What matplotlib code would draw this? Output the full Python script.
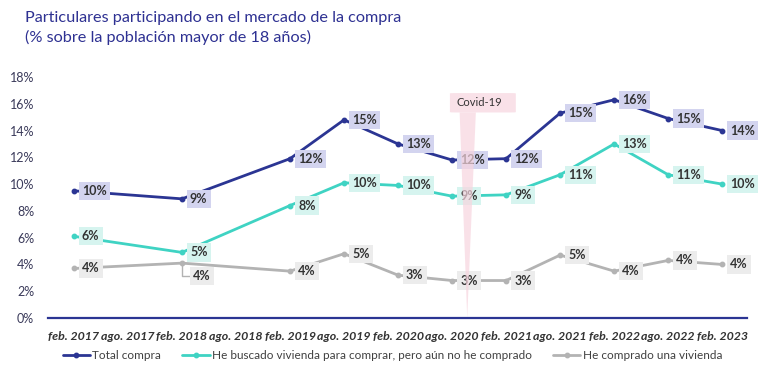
import numpy as np
import matplotlib.pyplot as plt
from matplotlib.patches import FancyBboxPatch, Polygon

plt.rcParams["font.family"] = ["Lato", "DejaVu Sans"]

# ---------------- data ----------------
periods = ["feb. 2017", "ago. 2017", "feb. 2018", "ago. 2018", "feb. 2019",
           "ago. 2019", "feb. 2020", "ago. 2020", "feb. 2021", "ago. 2021",
           "feb. 2022", "ago. 2022", "feb. 2023"]
# waves measured (index into periods)
wave_idx = [0, 2, 4, 5, 6, 7, 8, 9, 10, 11, 12]

total_compra = [9.5, 8.9, 11.9, 14.8, 13.0, 11.8, 11.9, 15.3, 16.3, 14.9, 14.0]
buscado = [6.1, 4.9, 8.4, 10.1, 9.9, 9.1, 9.2, 10.7, 13.0, 10.7, 10.0]
comprado = [3.7, 4.1, 3.5, 4.8, 3.2, 2.8, 2.8, 4.7, 3.5, 4.3, 4.0]

series_names = ["Total compra",
                "He buscado vivienda para comprar, pero aún no he comprado",
                "He comprado una vivienda"]

covid_pos = 7.28  # just after ago. 2020

# ---------------- style ----------------
NAVY = "#2b3593"
CYAN = "#3fd3c3"
GREY = "#b3b3b3"
box_colors = ["#d3d4ef", "#d6f4ef", "#ececec"]
line_colors = [NAVY, CYAN, GREY]

fig = plt.figure(figsize=(7.68, 3.70), dpi=100)
ax = fig.add_axes([0.0625, 0.1405, 0.9102, 0.6514])

x = np.array(wave_idx)
all_series = [total_compra, buscado, comprado]

for vals, lc, bc, name in zip(all_series, line_colors, box_colors, series_names):
    ax.plot(x, vals, color=lc, lw=2.0, marker="o", ms=3.2, label=name,
            solid_capstyle="round", zorder=3)
    for i, (xi, v) in enumerate(zip(x, vals)):
        lbl = f"{v:.0f}%"
        if lc == GREY and i == 1:
            # label pushed below-right with a leader line
            ax.annotate(lbl, xy=(xi, v), xytext=(11, -13),
                        textcoords="offset pixels", ha="left", va="center",
                        fontsize=9, fontweight="bold", color="#333333",
                        bbox=dict(boxstyle="square,pad=0.25", fc=bc, ec="none"),
                        arrowprops=dict(arrowstyle="-", color=GREY, lw=1.0,
                                        connectionstyle="angle,angleA=0,angleB=90,rad=0",
                                        shrinkA=0, shrinkB=0),
                        zorder=4)
        else:
            ax.annotate(lbl, xy=(xi, v), xytext=(8, 0),
                        textcoords="offset pixels", ha="left", va="center",
                        fontsize=9, fontweight="bold", color="#333333",
                        bbox=dict(boxstyle="square,pad=0.25", fc=bc, ec="none"),
                        zorder=4)

# Covid-19 callout
box = FancyBboxPatch((covid_pos - 0.32, 15.35), 1.22, 1.45,
                     boxstyle="round,pad=0,rounding_size=0.1",
                     fc="#f7d5df", ec="none", alpha=0.7, zorder=5,
                     mutation_aspect=13.4 / 54)
ax.add_patch(box)
wedge = Polygon([(covid_pos - 0.14, 15.35), (covid_pos + 0.16, 15.35),
                 (covid_pos, 0.0)], closed=True, fc="#f7d5df", ec="none",
                alpha=0.7, zorder=5)
ax.add_patch(wedge)
ax.text(covid_pos + 0.22, 16.07, "Covid-19", ha="center", va="center",
        fontsize=8, color="#333333", zorder=6)

ax.set_xlim(-0.48, 12.46)
ax.set_ylim(0, 18)
ax.set_yticks(np.arange(0, 19, 2))
ax.set_yticklabels([f"{t}%" for t in range(0, 19, 2)])
ax.set_xticks(np.arange(len(periods)))
ax.set_xticklabels(periods)
for t in ax.get_xticklabels():
    t.set_fontstyle("italic")
    t.set_fontweight("bold")
    t.set_fontsize(8.9)
    t.set_color("#333333")
for t in ax.get_yticklabels():
    t.set_fontsize(9)
    t.set_color("#3a3a5a")

ax.tick_params(axis="both", length=0)
ax.tick_params(axis="x", pad=9)
ax.tick_params(axis="y", pad=10)
for s in ["top", "right", "left"]:
    ax.spines[s].set_visible(False)
ax.spines["bottom"].set_color(NAVY)
ax.spines["bottom"].set_linewidth(1.6)
ax.spines["bottom"].set_zorder(6)

leg = fig.legend(loc="center", bbox_to_anchor=(0.511, 0.038), ncol=3, frameon=False,
                 fontsize=8.5, handlelength=2.3, handletextpad=0.2,
                 columnspacing=1.8, labelcolor="#404040")

fig.text(0.033, 0.925, "Particulares participando en el mercado de la compra\n"
         "(% sobre la población mayor de 18 años)",
         color="#2e3192", fontsize=11.7, ha="left", va="center",
         linespacing=1.4)

fig.savefig("out.png", dpi=100)
